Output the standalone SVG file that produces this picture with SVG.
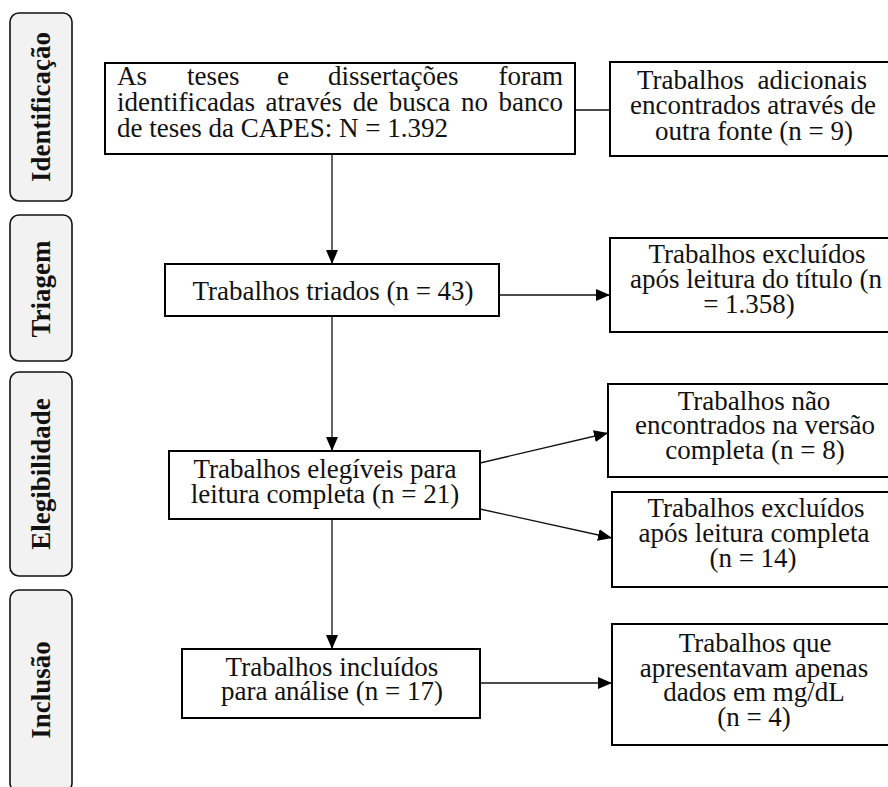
<svg xmlns="http://www.w3.org/2000/svg" width="888" height="787" viewBox="0 0 888 787">
<style>
.stage rect{fill:#f2f2f2;stroke:#111;stroke-width:1.6}
.stage text{font-family:"Liberation Serif","Times New Roman",serif;font-weight:bold;font-size:27px;fill:#111;text-anchor:middle}
.box rect{fill:#fff;stroke:#000;stroke-width:2}
.box text{font-family:"Liberation Serif","Times New Roman",serif;font-size:27px;fill:#111;white-space:pre}
.c{text-anchor:middle}
#connectors line{stroke:#111;stroke-width:1.3;fill:none}
</style>
<defs>
<marker id="ah" markerUnits="userSpaceOnUse" markerWidth="14" markerHeight="12" viewBox="0 0 14 12" refX="14" refY="6" orient="auto">
<path d="M0,0 L14,6 L0,12 z" fill="#000"/>
</marker>
</defs>
<g id="stage-identificacao" class="stage"><rect x="10" y="13" width="62" height="188" rx="9"/><text transform="translate(50,107) rotate(-90)">Identificação</text></g>
<g id="stage-triagem" class="stage"><rect x="10" y="215" width="62" height="146" rx="9"/><text transform="translate(50,289) rotate(-90)">Triagem</text></g>
<g id="stage-elegibilidade" class="stage"><rect x="10" y="372" width="62" height="204" rx="9"/><text transform="translate(50,474) rotate(-90)">Elegibilidade</text></g>
<g id="stage-inclusao" class="stage"><rect x="10" y="590" width="62" height="202" rx="9"/><text transform="translate(50,690) rotate(-90)">Inclusão</text></g>

<g id="connectors">
<line x1="575" y1="110" x2="610" y2="110"/>
<line x1="332" y1="154" x2="332" y2="264" marker-end="url(#ah)"/>
<line x1="499" y1="295" x2="610" y2="295" marker-end="url(#ah)"/>
<line x1="332" y1="316" x2="332" y2="451" marker-end="url(#ah)"/>
<line x1="480" y1="463" x2="608" y2="433" marker-end="url(#ah)"/>
<line x1="480" y1="509" x2="612" y2="538" marker-end="url(#ah)"/>
<line x1="332" y1="519" x2="332" y2="649" marker-end="url(#ah)"/>
<line x1="480" y1="683" x2="612" y2="683" marker-end="url(#ah)"/>
</g>

<g id="n-identificadas" class="box"><rect x="105" y="63" width="470" height="91"/>
<text x="117" y="85">As</text><text x="187" y="85">teses</text><text x="277" y="85">e</text><text x="328" y="85">dissertações</text><text x="563" y="85" text-anchor="end">foram</text>
<text x="117" y="111" style="white-space:normal" word-spacing="3.9">identificadas através de busca no banco</text>
<text x="117" y="137">de teses da CAPES: N = 1.392</text></g>

<g id="n-adicionais" class="box"><rect x="610" y="62" width="285" height="94"/>
<text class="c" x="752" y="89">Trabalhos  adicionais</text>
<text class="c" x="753" y="114">encontrados através de</text>
<text class="c" x="754" y="140">outra fonte (n = 9)</text></g>

<g id="n-triados" class="box"><rect x="165" y="264" width="334" height="52"/>
<text class="c" x="333" y="300">Trabalhos triados (n = 43)</text></g>

<g id="n-excl-titulo" class="box"><rect x="610" y="238" width="285" height="94"/>
<text class="c" x="757" y="263">Trabalhos excluídos</text>
<text class="c" x="756" y="288">após leitura do título (n</text>
<text class="c" x="749" y="313">= 1.358)</text></g>

<g id="n-elegiveis" class="box"><rect x="169" y="451" width="311" height="68"/>
<text class="c" x="325" y="478">Trabalhos elegíveis para</text>
<text class="c" x="325" y="503">leitura completa (n = 21)</text></g>

<g id="n-nao-encontrados" class="box"><rect x="608" y="384" width="287" height="93"/>
<text class="c" x="754" y="410">Trabalhos não</text>
<text class="c" x="755" y="434">encontrados na versão</text>
<text class="c" x="755" y="459">completa (n = 8)</text></g>

<g id="n-excl-completa" class="box"><rect x="612" y="492" width="283" height="95"/>
<text class="c" x="756" y="517">Trabalhos excluídos</text>
<text class="c" x="754" y="542">após leitura completa</text>
<text class="c" x="753" y="567">(n = 14)</text></g>

<g id="n-incluidos" class="box"><rect x="182" y="649" width="298" height="69"/>
<text class="c" x="332" y="676">Trabalhos incluídos</text>
<text class="c" x="332" y="700">para análise (n = 17)</text></g>

<g id="n-mgdl" class="box"><rect x="612" y="624" width="283" height="121"/>
<text class="c" x="755" y="652">Trabalhos que</text>
<text class="c" x="754" y="677">apresentavam apenas</text>
<text class="c" x="754" y="701">dados em mg/dL</text>
<text class="c" x="754" y="726">(n = 4)</text></g>
</svg>
